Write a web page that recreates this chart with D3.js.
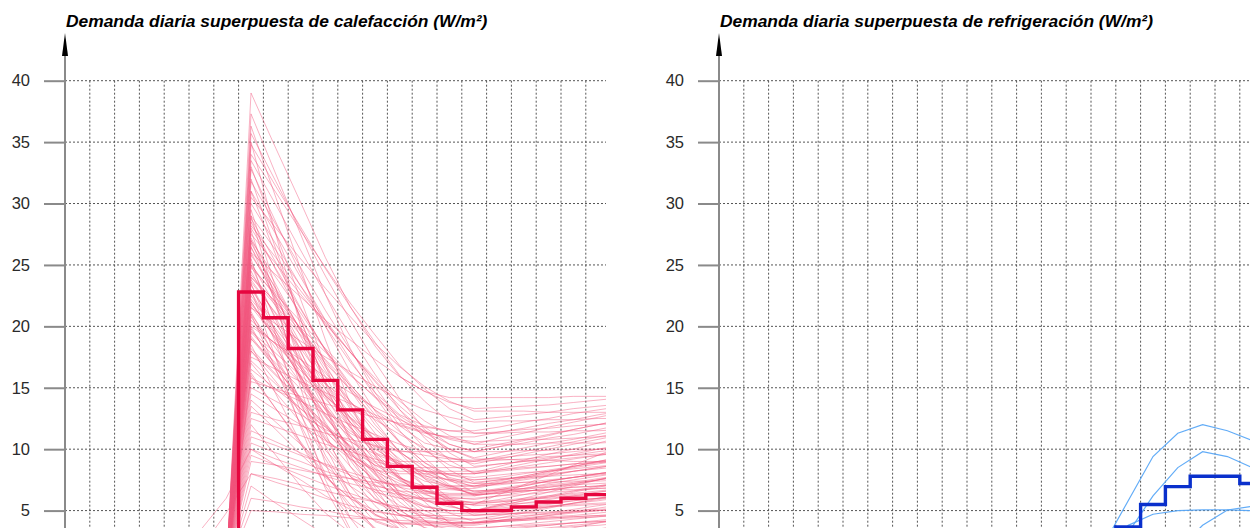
<!DOCTYPE html>
<html><head><meta charset="utf-8">
<script src="https://cdn.jsdelivr.net/npm/d3@7"></script>
<style>
html,body{margin:0;padding:0;background:#fff;overflow:hidden}
svg{display:block;font-family:"Liberation Sans",Arial,Helvetica,sans-serif}
</style>
</head><body>
<svg id="c" width="1250" height="528"></svg>
<script>
// ---------- DATA ----------
const yTicks = [5, 10, 15, 20, 25, 30, 35, 40];
const gridHours = d3.range(1, 24);

const heatTitle = "Demanda diaria superpuesta de calefacción (W/m²)";
const coolTitle = "Demanda diaria superpuesta de refrigeración (W/m²)";

// thin daily heating curves, values at half hours 6.5 .. 22.5
const heatHours = [6.5,7.5,8.5,9.5,10.5,11.5,12.5,13.5,14.5,15.5,16.5,17.5,18.5,19.5,20.5,21.5,22.5];
const heatDays = [
 [0,39,34.5,30.1,25.6,21.6,18.4,15.9,14.7,14.2,14.2,14.2,14.2,14.2,14.3,14.3,14.3],
 [0,37.3,32.4,27.5,22.6,18.2,14.6,11.9,10.5,10,10,10.4,10.8,11.2,11.6,12,12.4],
 [0,35.7,31.8,27.9,24.1,20.5,17.1,14.1,11.6,9.7,8.6,8.8,9,9.1,9.3,9.5,9.7],
 [0,35,27.5,20,13.4,8.6,5.9,5,5,5,5,5.4,5.8,6.2,6.6,7,7.4],
 [0,34,30.9,27.8,24.8,21.9,19.3,16.8,14.9,13.3,12.4,12.6,12.8,13,13.3,13.5,13.7],
 [0,33,27.6,22.2,16.8,12,8.1,5.1,3.6,3,3,3.2,3.4,3.6,3.8,4,4.2],
 [0,32,26.3,20.5,15.4,11.8,9.7,9,9,9,9,9.4,9.8,10.2,10.6,11,11.4],
 [0,31,27.5,24,20.5,17.3,14.3,11.5,9.3,7.5,6.5,6.8,7.1,7.4,7.7,8,8.3],
 [0,30,26.7,23.3,20,17.1,14.6,12.8,11.9,11.5,11.5,11.8,12.2,12.5,12.9,13.2,13.5],
 [0,29,22,15,8.8,4.4,1.8,1,1,1,1,1.2,1.4,1.6,1.8,2,2.2],
 [0,28.5,24.6,20.8,16.9,13.5,10.7,8.5,7.4,7,7,7.4,7.8,8.2,8.6,9,9.4],
 [0,28,24.7,21.4,18.1,15.1,12.3,9.7,7.6,6,5,5.1,5.2,5.3,5.4,5.5,5.6],
 [0,27.5,25.1,22.6,20.2,17.9,15.8,13.9,12.3,11.1,10.4,10.4,10.4,10.5,10.5,10.5,10.6],
 [0,27,22.5,18,13.5,9.5,6.3,3.8,2.5,2,2,2.3,2.6,2.9,3.2,3.5,3.8],
 [0,26.5,22,17.5,13.5,10.7,9,8.5,8.5,8.5,8.5,8.8,9,9.3,9.5,9.8,10],
 [0,26,22.3,18.6,14.9,11.7,9,6.9,5.9,5.5,5.5,5.7,5.9,6.1,6.3,6.5,6.7],
 [0,25.5,19.3,13,7.5,3.5,1.3,0.5,0.5,0.5,0.5,0.6,0.7,0.8,0.9,1,1.1],
 [0,25,22.4,19.8,17.2,14.8,12.6,10.6,8.9,7.6,6.9,7.2,7.5,7.8,8.2,8.5,8.8],
 [0,24.5,20.7,16.9,13.2,9.8,7.1,5,3.9,3.5,3.5,3.7,3.9,4.1,4.3,4.5,4.7],
 [0,24,22,19.9,17.9,16,14.3,12.7,11.4,10.4,9.8,10.2,10.7,11.1,11.6,12,12.4],
 [0,23.5,18.6,13.8,9.5,6.3,4.6,4,4,4,4,4.2,4.4,4.6,4.8,5,5.2],
 [0,23,20.2,17.4,14.6,12.2,10.1,8.6,7.8,7.5,7.5,7.6,7.7,7.8,7.9,8,8.1],
 [0,22.5,19.6,16.6,13.7,11,8.4,6.1,4.2,2.8,1.9,2,2.1,2.2,2.4,2.5,2.6],
 [0,22,18.9,15.9,12.8,10.1,7.9,6.2,5.3,5,5,5.5,6,6.5,7,7.5,8],
 [0,21.5,20.2,18.8,17.5,16.3,15.1,14.1,13.2,12.6,12.2,12.3,12.3,12.4,12.4,12.5,12.5],
 [0,21,16.5,12,8,5.2,3.5,3,3,3,3,3.1,3.2,3.3,3.4,3.5,3.6],
 [0,20.5,18.5,16.4,14.4,12.5,10.8,9.2,7.9,6.9,6.3,6.4,6.6,6.7,6.9,7,7.1],
 [0,20,16.4,12.8,9.2,6,3.4,1.4,0.4,0,0,0,0,0,0,0,0],
 [0,19.5,17.4,15.4,13.3,11.5,10,8.8,8.2,8,8,8.4,8.8,9.2,9.6,10,10.4],
 [0,19,17,14.9,12.9,11,9.3,7.7,6.4,5.4,4.8,5,5.3,5.5,5.8,6,6.2],
 [0,18.5,14.5,10.5,7,4.4,3,2.5,2.5,2.5,2.5,2.6,2.7,2.8,2.9,3,3.1],
 [0,18,16,14,12,10.2,8.7,7.6,7,6.8,6.8,7.2,7.7,8.1,8.6,9,9.4],
 [0,17.5,16.5,15.5,14.6,13.7,12.8,12,11.4,10.9,10.6,10.7,10.8,10.8,10.9,11,11.1],
 [0,17,14.6,12.2,9.9,7.8,6,4.7,4.1,3.8,3.8,4.1,4.3,4.6,4.9,5.2,5.5],
 [0,16.5,14.9,13.3,11.8,10.3,8.9,7.7,6.7,5.9,5.4,5.5,5.6,5.7,5.9,6,6.1],
 [0,16,13.3,10.6,7.9,5.5,3.6,2.1,1.3,1,1,1.1,1.2,1.3,1.4,1.5,1.6],
 [0,15,13.9,12.8,11.6,10.6,9.6,8.8,8,7.5,7.2,7.5,7.8,8.2,8.5,8.8,9.1],
 [0,14,12.2,10.4,8.6,7,5.7,4.7,4.2,4,4,4.2,4.3,4.5,4.6,4.8,5],
 [0,13,12.4,11.9,11.3,10.8,10.3,9.9,9.5,9.2,9.1,9.3,9.5,9.6,9.8,10,10.2],
 [0,12,9.5,7,4.8,3.2,2.3,2,2,2,2,2.1,2.2,2.3,2.4,2.5,2.6],
 [0,11,10.3,9.5,8.8,8.1,7.5,6.9,6.5,6.1,5.9,6.2,6.5,6.9,7.2,7.5,7.8],
 [0,10,8.7,7.5,6.2,5.1,4.2,3.5,3.1,3,3,3.1,3.2,3.3,3.4,3.5,3.6],
 [0,9,8.7,8.3,7.9,7.6,7.3,7.1,6.8,6.7,6.6,6.7,6.8,6.9,7.1,7.2,7.3],
 [0,8,7.3,6.7,6,5.4,4.9,4.6,4.4,4.3,4.3,4.4,4.6,4.7,4.9,5,5.1],
 [0,7,5.6,4.3,3,2.2,1.7,1.5,1.5,1.5,1.5,1.6,1.7,1.8,1.9,2,2.1],
 [0,6,5.7,5.3,5,4.6,4.3,4,3.8,3.7,3.6,3.7,3.8,3.9,4,4.1,4.2],
 [0,5,4.9,4.7,4.6,4.4,4.3,4.2,4.1,4,4,4.1,4.2,4.3,4.4,4.5,4.6],
 [0,26,24.2,22.4,20.5,18.9,17.3,15.9,14.7,13.8,13.3,13.4,13.5,13.6,13.8,14,14.2],
 [0,24,21.7,19.3,17,14.9,13.2,11.9,11.3,11,11,11.4,11.7,12.1,12.4,12.8,13.1],
 [0,22,19,15.9,13.2,11.3,10.2,9.8,9.8,9.8,9.8,9.8,9.9,9.9,10,10,10],
 [0,27,24,21.1,18.1,15.3,12.8,10.5,8.6,7.1,6.2,6.5,6.8,7.2,7.5,7.8,8.1],
 [0,29,26.2,23.3,20.5,17.9,15.5,13.2,11.4,10,9.2,9.2,9.1,9.1,9,9,9],
 [0,31,25.8,20.6,15.3,10.7,6.9,4,2.6,2,2,2.4,2.8,3.2,3.6,4,4.4],
 [0,23,17.4,11.8,6.8,3.2,1.2,0.5,0.5,0.5,0.5,0.5,0.5,0.5,0.5,0.5,0.5],
 [0,20,18.6,17.3,15.9,14.6,13.4,12.4,11.5,10.8,10.4,10.9,11.3,11.8,12.2,12.6,13],
 [0,25,20.5,16,12,9.2,7.5,7,7,7,7,7.3,7.6,7.9,8.2,8.5,8.8],
 [0,21,18.2,15.4,12.6,10.2,8.1,6.6,5.8,5.5,5.5,6.3,7.1,7.9,8.7,9.5,10.3],
 [0,19,16.6,14.2,11.9,9.7,7.6,5.7,4.2,3,2.3,2.4,2.6,2.7,2.9,3,3.1],
 [0,33.5,29.9,26.2,22.6,19.2,16.1,13.2,10.9,9.1,8,8.2,8.4,8.6,8.8,9,9.2],
 [0,36.3,30.5,24.7,18.9,13.7,9.5,6.3,4.6,4,4,4.4,4.8,5.2,5.6,6,6.4],
 [0,30.5,28,25.5,23.1,20.8,18.6,16.7,15.1,13.9,13.1,13.1,13.1,13,13,13,13],
 [0,18,15.5,13,10.8,9.2,8.3,8,8,8,8,8.3,8.6,8.9,9.2,9.5,9.8],
 [0,15.5,14.9,14.3,13.7,13.1,12.6,12.1,11.8,11.5,11.3,11.4,11.6,11.7,11.9,12,12.1],
 [0,24.8,22.6,20.4,18.2,16.1,14.2,12.5,11.1,10,9.3,9.7,10.1,10.5,10.8,11.2,11.6],
 [0,28.8,25.2,21.5,18,14.8,12,9.8,8.3,7.4,7,7.1,7.3,7.5,7.7,7.9,8.1],
 [0,26.8,23,19.2,15.5,12.2,9.5,7.5,6.3,5.8,5.6,5.9,6.3,6.7,7.1,7.5,7.9],
 [0,23.8,21,18.2,15.4,12.9,10.7,8.9,7.6,6.8,6.4,6.7,7,7.4,7.7,8,8.3],
 [0,21.8,19.3,16.8,14.4,12.2,10.3,8.8,7.7,7,6.6,6.6,6.6,6.7,6.7,6.8,6.8],
 [0,32.8,28.5,24.3,20,16.3,13.1,10.6,8.9,7.9,7.5,7.7,8,8.3,8.6,8.9,9.2],
 [0,19.8,16.8,13.8,11,8.6,6.7,5.4,4.7,4.4,4.3,4.6,4.9,5.3,5.6,5.9,6.2],
 [0,27.2,23.4,19.6,15.9,12.5,9.8,7.7,6.6,6.2,6.2,6.5,6.7,7,7.2,7.5,7.8],
 [0,25.8,22.8,19.8,16.7,13.9,11.3,9,7,5.5,4.6,4.7,4.8,4.8,4.9,5,5.1],
 [0,24.2,21.9,19.6,17.3,15.2,13.2,11.4,9.9,8.7,8.1,8.6,9.1,9.6,10,10.5,11],
 [0,22.8,19.3,15.7,12.2,9.1,6.5,4.6,3.6,3.2,3.2,3.4,3.6,3.8,4,4.2,4.4],
 [0,21.2,17.4,13.6,10.3,7.8,6.5,6,6,6,6,6.2,6.3,6.5,6.6,6.8,7],
 [0,20.2,18.6,16.9,15.3,13.8,12.4,11.2,10.1,9.3,8.8,9.2,9.6,10,10.4,10.8,11.2],
 [0,19.2,16.6,14.1,11.5,9.3,7.4,6,5.3,5,5,5.3,5.6,5.9,6.2,6.5,6.8],
 [0,18.2,16.1,14,11.8,9.8,8,6.3,5,4.1,3.3,3.3,3.4,3.4,3.5,3.5,3.6],
 [0,17.2,15.3,13.3,11.4,9.6,8.2,7.2,6.6,6.4,6.4,6.7,7,7.4,7.7,8,8.3],
 [0,16.2,13.3,10.4,7.8,6,5,4.6,4.6,4.6,4.6,4.8,5.1,5.3,5.6,5.8,6.1],
 [0,14.5,13.2,12,10.7,9.5,8.4,7.4,6.6,6,5.6,5.7,5.9,6,6.2,6.3,6.5],
 [0,13.5,11.6,9.6,7.7,6,4.7,3.5,3,2.8,2.8,2.9,3,3.1,3.2,3.3,3.4],
 [0,12.5,11.8,11.1,10.4,9.8,9.2,8.7,8.2,7.9,7.7,7.9,8.1,8.2,8.4,8.6,8.8],
 [0,11.5,10.6,9.7,8.7,7.9,7.1,6.4,5.8,5.3,5,5.1,5.2,5.4,5.5,5.6,5.7],
 [0,10.5,9.7,9,8.2,7.6,7,6.6,6.4,6.3,6.3,6.6,6.8,7.1,7.3,7.6,7.9],
 [0,9.5,8.7,7.9,7.1,6.4,5.7,5.1,4.6,4.2,4,4.1,4.2,4.4,4.5,4.6,4.7],
 [0,29.5,23.1,16.7,11.3,7,4.7,3.9,3.9,3.9,3.9,4.2,4.5,4.8,5.1,5.4,5.7],
 [0,28.2,25.6,22.9,20.3,17.9,15.6,13.5,11.8,10.4,9.8,10.2,10.5,10.9,11.2,11.6,12],
 [0,26.4,23.1,19.7,16.4,13.3,10.5,7.8,5.7,4,3.1,3.2,3.4,3.5,3.7,3.8,4],
 [0,25.2,21.6,17.9,14.3,11.1,8.6,6.4,5.4,5,5,5.2,5.4,5.6,5.8,6,6.2],
 [0,23.4,19.6,15.8,12.7,10,8.7,8.2,8.2,8.2,8.2,8.3,8.5,8.6,8.8,8.9,9],
 [0,22.2,19.8,17.3,14.9,12.6,10.5,8.6,7,5.8,5,5.4,5.8,6.1,6.5,6.9,7.3],
 [0,20.8,17.5,14.1,10.8,7.8,5.4,3.5,2.6,2.2,2.2,2.3,2.4,2.6,2.7,2.8,2.9],
 [0,31.8,28.3,24.8,21.3,18.1,15.1,12.3,10.1,8.3,7.3,7.5,7.7,8,8.2,8.4,8.6],
 [0,34.8,31.4,28.1,24.7,21.6,18.7,16,13.9,12.2,11.3,11.3,11.4,11.4,11.5,11.5,11.6],
 [0,19.6,17.8,16,14.3,12.6,11.1,9.7,8.6,7.7,7.2,7.2,7.3,7.3,7.4,7.4,7.5],
 [0,15.8,14.8,13.9,12.9,12,11.2,10.4,9.8,9.3,9,9.1,9.2,9.4,9.5,9.6,9.7],
 [0,27.8,21.7,15.6,10.2,6.3,4.1,3.4,3.4,3.4,3.4,3.5,3.7,3.8,4,4.1,4.2],
 [0,23.6,21.1,18.6,16.2,13.9,11.7,9.8,8.2,7,6.3,6.4,6.6,6.7,6.9,7,7.1],
 [0,21.6,19.1,16.6,14.1,11.8,9.6,7.6,6,4.8,4.1,4.2,4.3,4.4,4.5,4.6,4.7]
];
// days whose heating starts before 6:30
const heatEarlyHours = [3.5,4.5,5.5,6.5,7.5,8.5,9.5,10.5,11.5,12.5,13.5,14.5,15.5,16.5,17.5,18.5,19.5,20.5,21.5,22.5];
const heatEarlyDays = [
 [0,1.5,3.5,6,10,9.2,8.5,7.8,7.2,6.7,6.3,6,5.8,5.7,5.8,6,6.2,6.4,6.6,6.8],
 [0,0,2,4.8,8,7.6,7.1,6.6,6.1,5.7,5.3,5,4.8,4.7,4.7,4.8,4.9,5,5.1,5.2]
];
// hourly mean (step)
const heatMeanHours = [6,7,8,9,10,11,12,13,14,15,16,17,18,19,20,21,22];
const heatMean = [0.3,22.8,20.7,18.2,15.6,13.2,10.8,8.6,6.9,5.6,5.0,5.0,5.3,5.7,6.0,6.3,6.6];

// cooling
const coolHours = [14.5,15.5,16.5,17.5,18.5,19.5,20.5,21.5,22.5];
const coolDays = [
 [0.5,2.2,5.8,9.4,11.3,12,11.5,10.7,9.8],
 [0,1,3.2,6.2,8.5,9.8,9.4,8.5,7.6],
 [0,1.5,3.8,4.7,5,5.05,5.05,5,4.95],
 [0,0,0,0,1.8,3.8,5.05,5.35,5.4]
];
const coolMeanHours = [14,15,16,17,18,19,20,21,22];
const coolMean = [1.2,2.4,3.66,5.5,6.95,7.8,7.8,7.2,6.6];

// ---------- DRAW ----------
const svg = d3.select("#c");
const y = d3.scaleLinear().domain([0, 40]).range([572, 80.7]);
const HOUR_PX = 24.8;

function panel(cfg) {
  const x = d3.scaleLinear().domain([0, 24]).range([cfg.x0, cfg.x0 + 24 * HOUR_PX]);
  const g = svg.append("g");
  const clipId = "clip" + cfg.id;
  svg.append("clipPath").attr("id", clipId).append("rect")
    .attr("x", cfg.x0).attr("y", 0).attr("width", cfg.right - cfg.x0).attr("height", 528);

  const grid = g.append("g").attr("clip-path", `url(#${clipId})`);
  grid.selectAll("line.h").data(yTicks).join("line")
    .attr("x1", cfg.x0).attr("x2", cfg.right)
    .attr("y1", d => y(d)).attr("y2", d => y(d))
    .attr("stroke", "#555").attr("stroke-width", 1).attr("stroke-dasharray", "2,2");
  grid.selectAll("line.v").data(gridHours).join("line")
    .attr("x1", d => x(d)).attr("x2", d => x(d))
    .attr("y1", y(40)).attr("y2", 528)
    .attr("stroke", "#555").attr("stroke-width", 1).attr("stroke-dasharray", "2,2");

  const line = d3.line().x(d => x(d[0])).y(d => y(d[1]));
  const data = g.append("g").attr("clip-path", `url(#${clipId})`);
  cfg.thin.forEach(set => {
    data.append("g").selectAll("path").data(set.rows).join("path")
      .attr("d", r => line(set.hours.map((h, i) => [h, r[i]])))
      .attr("fill", "none").attr("stroke", cfg.thinColor)
      .attr("stroke-width", cfg.thinWidth).attr("stroke-opacity", cfg.thinOpacity);
  });
  const step = d3.line().curve(d3.curveStepAfter).x(d => x(d[0])).y(d => y(d[1]));
  data.append("path")
    .attr("d", step(cfg.meanHours.map((h, i) => [h, cfg.mean[i]])))
    .attr("fill", "none").attr("stroke", cfg.meanColor).attr("stroke-width", 3.4)
    .attr("stroke-linejoin", "miter");

  // axis
  const ax = g.append("g").attr("transform", `translate(${cfg.x0},0)`)
    .call(d3.axisLeft(y).tickValues(yTicks).tickSize(21).tickPadding(14).tickFormat(d3.format("d")));
  ax.select(".domain").remove();
  ax.selectAll(".tick line").attr("stroke", "#8a8a8a").attr("stroke-width", 2);
  ax.selectAll(".tick text").attr("fill", "#2a2a2a").attr("font-size", 16.5)
    .attr("font-family", "\"Liberation Sans\",Arial,sans-serif");
  g.append("line").attr("x1", cfg.x0).attr("x2", cfg.x0).attr("y1", 50).attr("y2", 528)
    .attr("stroke", "#8a8a8a").attr("stroke-width", 2);
  g.append("path")
    .attr("d", `M${cfg.x0},33 L${cfg.x0 - 3},56 L${cfg.x0 + 3},56 Z`)
    .attr("fill", "#000");

  g.append("text").attr("x", cfg.x0 + 1).attr("y", 27)
    .attr("font-size", 17.4).attr("font-weight", "bold").attr("font-style", "italic")
    .attr("fill", "#000").text(cfg.title);
}

panel({
  id: "heat", x0: 65, right: 606, title: heatTitle,
  thin: [{hours: heatHours, rows: heatDays}, {hours: heatEarlyHours, rows: heatEarlyDays}],
  thinColor: "#f2557c", thinWidth: 1, thinOpacity: 0.45,
  meanHours: heatMeanHours, mean: heatMean, meanColor: "#e6063f"
});
panel({
  id: "cool", x0: 719, right: 1250, title: coolTitle,
  thin: [{hours: coolHours, rows: coolDays}],
  thinColor: "#5aa8f7", thinWidth: 1.2, thinOpacity: 0.95,
  meanHours: coolMeanHours, mean: coolMean, meanColor: "#0a30cc"
});
</script>
</body></html>
